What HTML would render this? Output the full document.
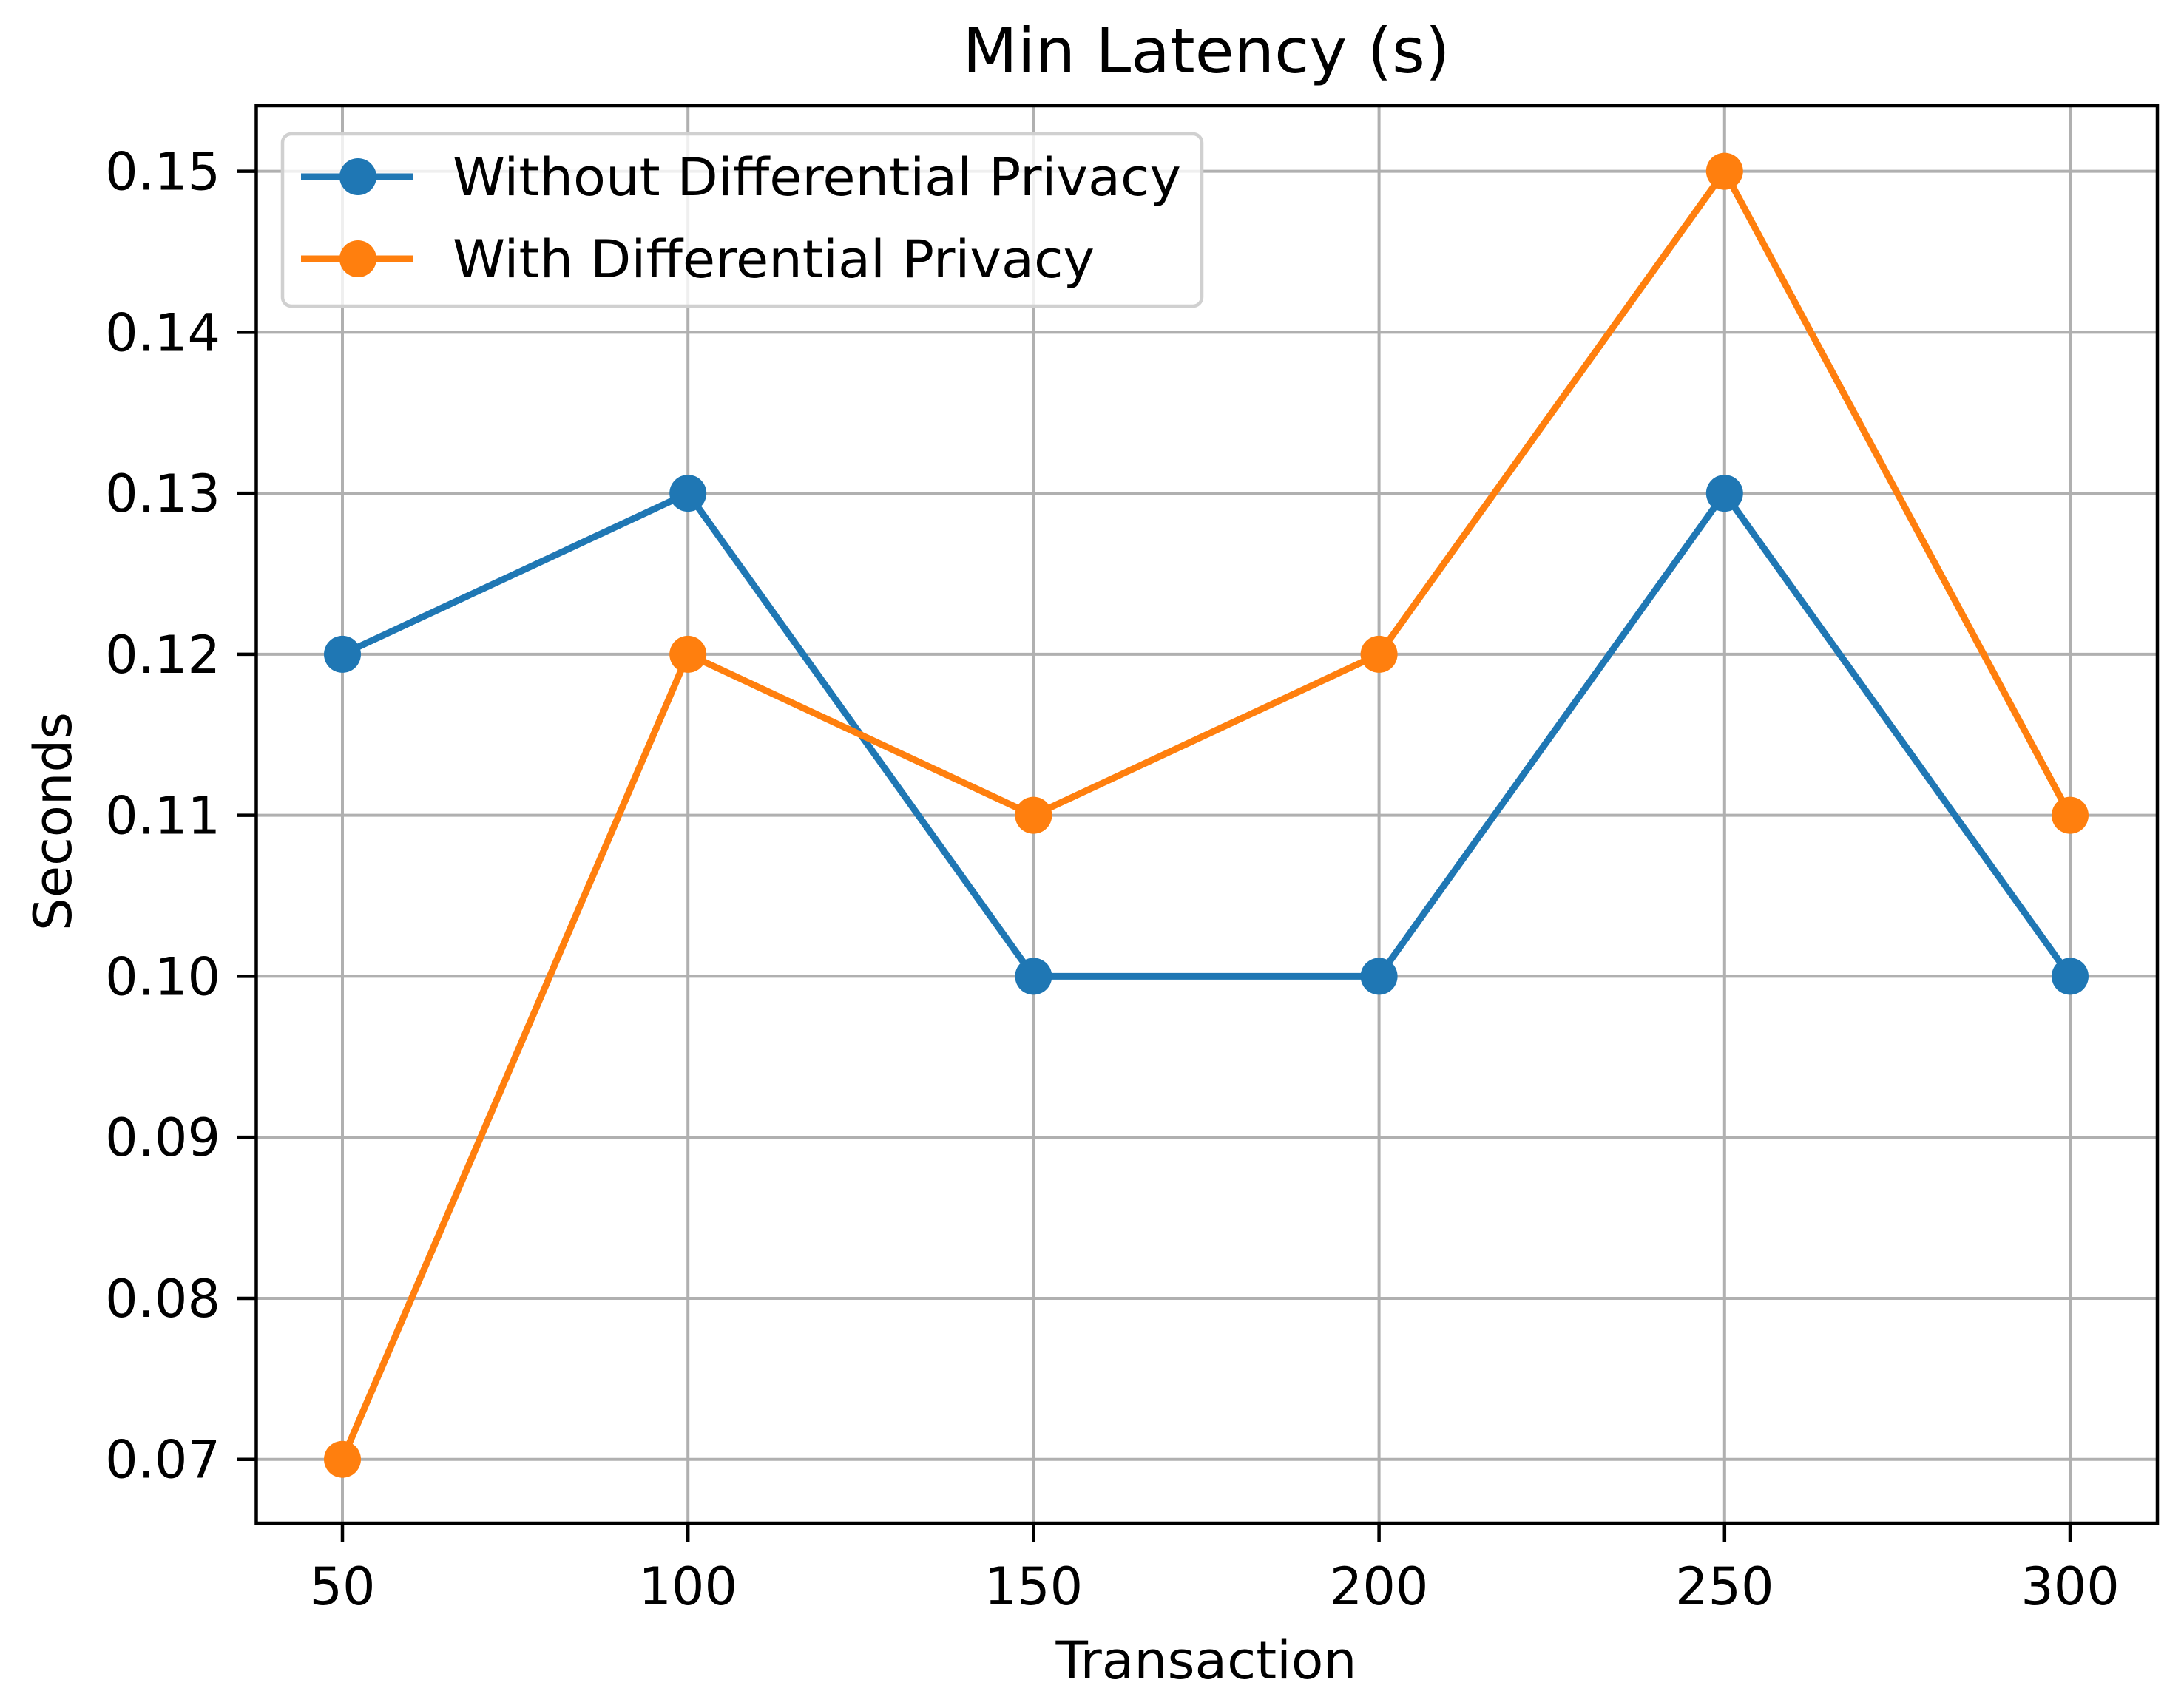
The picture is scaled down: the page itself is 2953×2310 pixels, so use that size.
<!DOCTYPE html>
<html><head><meta charset="utf-8"><style>body{margin:0;background:#fff}svg{display:block}text{font-family:"DejaVu Sans","Liberation Sans",sans-serif;fill:#000}</style></head>
<body>
<svg id="chart" width="2953" height="2310" viewBox="0 0 2953 2310" xmlns="http://www.w3.org/2000/svg">
<rect width="2953" height="2310" fill="#fff"/>
<g id="grid"></g>
<g id="series"></g>
<rect x="346.5" y="143" width="2570.5" height="1917" fill="none" stroke="#000" stroke-width="4.5"/>
<g id="ticks"></g>
<text x="1631" y="98" font-size="84" text-anchor="middle" textLength="659" lengthAdjust="spacingAndGlyphs">Min Latency (s)</text>
<text x="1631" y="2270" font-size="70" text-anchor="middle" textLength="407" lengthAdjust="spacingAndGlyphs">Transaction</text>
<text transform="translate(96,1111) rotate(-90)" font-size="70" text-anchor="middle" textLength="296" lengthAdjust="spacingAndGlyphs">Seconds</text>
<g>
<rect x="382" y="181" width="1243" height="233" rx="12" fill="#fff" fill-opacity="0.8" stroke="#d0d0d0" stroke-width="4.5"/>
<line x1="407" y1="239" x2="559" y2="239" stroke="#1f77b4" stroke-width="9"/>
<circle cx="484" cy="239" r="25" fill="#1f77b4"/>
<text x="612" y="264" font-size="70" textLength="985" lengthAdjust="spacingAndGlyphs">Without Differential Privacy</text>
<line x1="407" y1="350" x2="559" y2="350" stroke="#ff7f0e" stroke-width="9"/>
<circle cx="484" cy="350" r="25" fill="#ff7f0e"/>
<text x="612" y="375" font-size="70" textLength="868" lengthAdjust="spacingAndGlyphs">With Differential Privacy</text>
</g>
</svg>
<script>
const categories = [50, 100, 150, 200, 250, 300];
const withoutDP = [0.12, 0.13, 0.10, 0.10, 0.13, 0.10];
const withDP = [0.07, 0.12, 0.11, 0.12, 0.15, 0.11];
const yTicks = [0.07, 0.08, 0.09, 0.10, 0.11, 0.12, 0.13, 0.14, 0.15];
const xTicks = [50, 100, 150, 200, 250, 300];

const NS = "http://www.w3.org/2000/svg";
const xs = v => 463 + (v - 50) * (2799 - 463) / 250;
const ys = v => 1973.7 - (v - 0.07) * (1973.7 - 231.6) / 0.08;
function mk(tag, attrs, parent){const e=document.createElementNS(NS,tag);for(const k in attrs)e.setAttribute(k,attrs[k]);parent.appendChild(e);return e;}
const grid=document.getElementById('grid'), ticks=document.getElementById('ticks'), series=document.getElementById('series');
xTicks.forEach(t=>{
  const g=mk('line',{x1:xs(t),x2:xs(t),y1:143,y2:2060,stroke:'#b0b0b0','stroke-width':4},grid);
  
  
  mk('line',{x1:xs(t),x2:xs(t),y1:2060,y2:2085,stroke:'#000','stroke-width':4.5},ticks);
  const l=mk('text',{x:xs(t),y:2170,'font-size':70,'text-anchor':'middle'},ticks);
  l.textContent=t;
  
  
});
yTicks.forEach(t=>{
  const g=mk('line',{x1:346.5,x2:2917,y1:ys(t),y2:ys(t),stroke:'#b0b0b0','stroke-width':4},grid);
  
  
  mk('line',{x1:321,x2:346.5,y1:ys(t),y2:ys(t),stroke:'#000','stroke-width':4.5},ticks);
  const l=mk('text',{x:298,y:ys(t)+25,'font-size':70,'text-anchor':'end'},ticks);
  l.textContent=t.toFixed(2);
  
  
});
function drawSeries(vals,color,name){
  const pts=vals.map((v,i)=>xs(categories[i])+','+ys(v)).join(' ');
  const pl=mk('polyline',{points:pts,fill:'none',stroke:color,'stroke-width':9,'stroke-linejoin':'round'},series);
  
  
  vals.forEach((v,i)=>{
    const c=mk('circle',{cx:xs(categories[i]),cy:ys(v),r:25,fill:color},series);
    
    
  });
}
drawSeries(withoutDP,'#1f77b4','without-dp');
drawSeries(withDP,'#ff7f0e','with-dp');
</script>
</body></html>
